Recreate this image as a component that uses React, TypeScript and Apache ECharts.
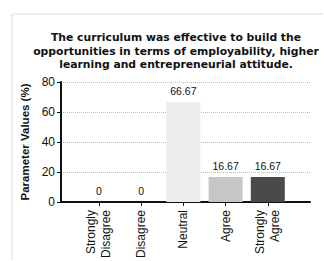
import React, { useEffect, useRef } from "react";
import * as echarts from "echarts";

const titleLines = [
  "The curriculum was effective to build the",
  "opportunities in terms of employability, higher",
  "learning and entrepreneurial attitude.",
];
const categories = ["Strongly\nDisagree", "Disagree", "Neutral", "Agree", "Strongly\nAgree"];
const values = [0, 0, 66.67, 16.67, 16.67];
const barColors = ["#f5f5f5", "#dcdcdc", "#ececec", "#c6c6c6", "#4a4a4a"];
const yTicks = [0, 20, 40, 60, 80];
const yAxisName = "Parameter Values (%)";

export default function App() {
  const ref = useRef<HTMLDivElement>(null);
  useEffect(() => {
    if (!ref.current) return;
    const chart = echarts.init(ref.current, null, { renderer: "svg" });
    const positions = categories.map((_, i) => i + 1);
    chart.setOption({
      animation: false,
      backgroundColor: "#ffffff",
      title: {
        text: titleLines.join("\n"),
        left: 171,
        top: 26,
        textAlign: "center",
        textStyle: {
          fontFamily: "DejaVu Sans",
          fontWeight: "bold",
          fontSize: 10.8,
          lineHeight: 13.5,
          color: "#111",
        },
      },
      graphic: [
        {
          type: "rect",
          shape: { x: 12, y: 14, width: 330, height: 270 },
          style: { fill: "none", stroke: "#bbb", lineWidth: 1, lineDash: [1, 1] },
          silent: true,
        },
      ],
      grid: { left: 61, right: 14, top: 82, bottom: 56, containLabel: false },
      xAxis: {
        type: "value",
        min: 0.1,
        max: 6,
        splitLine: { show: false },
        axisLine: { show: true, onZero: false, lineStyle: { color: "#111", width: 2 } },
        axisTick: {
          show: true,
          length: 4,
          lineStyle: { color: "#111", width: 1 },
          customValues: positions,
        },
        axisLabel: {
          show: true,
          customValues: positions,
          rotate: 90,
          margin: 8,
          fontFamily: "Liberation Sans",
          fontSize: 12,
          lineHeight: 15,
          color: "#111",
          formatter: (v: number) => categories[Math.round(v) - 1] ?? "",
        },
      },
      yAxis: {
        type: "value",
        min: 0,
        max: 80,
        interval: 20,
        name: yAxisName,
        nameLocation: "middle",
        nameGap: 25,
        nameTextStyle: {
          fontFamily: "Liberation Sans",
          fontWeight: "bold",
          fontSize: 11.5,
          color: "#111",
        },
        axisLine: { show: true, lineStyle: { color: "#111", width: 2 } },
        axisTick: { show: true, length: 4, lineStyle: { color: "#111" } },
        axisLabel: {
          margin: 6,
          fontFamily: "Liberation Sans",
          fontSize: 12,
          color: "#111",
          formatter: (v: number) => (yTicks.includes(v) ? String(v) : ""),
        },
        splitLine: { show: true, lineStyle: { color: "#bbb", type: "dotted", width: 1 } },
      },
      series: [
        {
          type: "bar",
          barWidth: 34,
          data: values.map((v, i) => ({
            value: [positions[i], v],
            itemStyle: { color: barColors[i] },
          })),
          label: {
            show: true,
            position: "top",
            distance: 5,
            fontFamily: "Liberation Sans",
            fontSize: 10.5,
            color: "#111",
            formatter: (p: any) => String(p.value[1]),
          },
        },
      ],
    });
    return () => chart.dispose();
  }, []);
  return (
    <div
      ref={ref}
      style={{ position: "fixed", left: 0, top: 0, width: 324, height: 261 }}
    />
  );
}
